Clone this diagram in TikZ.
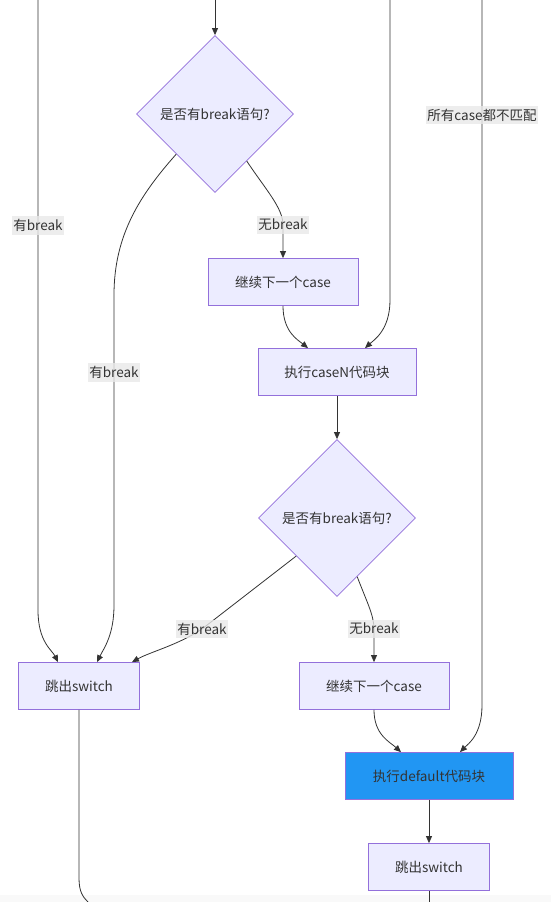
\documentclass[tikz,border=0pt]{standalone}
\usepackage{fontspec}
\setmainfont{Noto Sans CJK SC}
\usepackage{tikz}
\usetikzlibrary{arrows.meta,shapes.geometric,calc}
\definecolor{nodefill}{HTML}{ECECFF}
\definecolor{nodeline}{HTML}{9370DB}
\definecolor{inkgray}{HTML}{333333}
\definecolor{lblgray}{HTML}{E8E8E8}
\definecolor{defblue}{HTML}{2196F3}

\begin{document}
\begin{tikzpicture}[
      x=1pt, y=-1pt,
      every node/.style={font=\fontsize{13.5}{15}\selectfont, text=inkgray},
      stepbox/.style={rectangle, draw=nodeline, fill=nodefill, line width=0.8pt,
        minimum height=47pt, inner sep=0pt},
      choice/.style={diamond, draw=nodeline, fill=nodefill, line width=0.8pt,
        minimum width=157pt, minimum height=157pt, inner sep=0pt},
      flow/.style={draw=inkgray, line width=0.8pt, -{Triangle[length=7pt,width=6pt]}},
      lbl/.style={fill=lblgray, fill opacity=0.8, text opacity=1, inner xsep=1pt,
        inner ysep=3pt}
    ]
    % frame of the cropped picture
    \useasboundingbox (0,0) rectangle (551,902);
    \fill[gray!5] (0,895) rectangle (551,902);
    % loose ends that run off the page
    \coordinate (inL) at (38,0);
    \coordinate (inTop) at (215,0);
    \coordinate (inMid) at (390,0);
    \coordinate (inR) at (482,0);
    \coordinate (outL) at (88,902);
    \coordinate (outR) at (429,902);
    % decisions and steps
    \node[choice] (ask1) at (215,114) {是否有break语句?};
    \node[stepbox, minimum width=150pt] (next1) at (283,282) {继续下一个case};
    \node[stepbox, minimum width=158pt] (runN) at (337,372) {执行caseN代码块};
    \node[choice] (ask2) at (337,518) {是否有break语句?};
    \node[stepbox, minimum width=121pt] (exit1) at (79,686) {跳出switch};
    \node[stepbox, minimum width=150pt] (next2) at (374,686) {继续下一个case};
    \node[stepbox, fill=defblue, minimum width=168pt] (runDef) at (429,776) {执行default代码块};
    \node[stepbox, minimum width=121pt] (exit2) at (429,867) {跳出switch};
    % connectors
    \draw[flow] (inTop) -- (ask1);
    \draw[flow] (inL) -- node[lbl, pos=0.37] (lblA) {有break} (38,610)
      .. controls (38,642) and (52,650) .. ([xshift=-21pt]exit1.north);
    \draw[flow] (ask1.-134) .. controls (140,195) and (114,235) .. (114,295)
      -- node[lbl, pos=0.25] (lblB) {有break} (114,605)
      .. controls (114,635) and (104,648) .. ([xshift=18pt]exit1.north);
    \draw[flow] (ask1.-56) .. controls (266,190) and (283,208) .. (283,225)
      node[lbl] (lblC) {无break} -- (next1);
    \draw[flow] (next1.south) .. controls (283,332) and (298,340) .. ([xshift=-29pt]runN.north);
    \draw[flow] (inMid) -- (390,300) .. controls (390,330) and (374,340) .. ([xshift=28pt]runN.north);
    \draw[flow] (runN) -- (ask2);
    \draw[flow] (ask2.-137) -- (202,629) node[lbl] (lblD) {有break}
      .. controls (178,645) and (150,652) .. ([xshift=53pt]exit1.north);
    \draw[flow] (ask2.-71) .. controls (366,600) and (374,615) .. (374,629)
      node[lbl] (lblE) {无break} -- (next2);
    \draw[flow] (next2.south) .. controls (374,735) and (390,742) .. ([xshift=-28pt]runDef.north);
    \draw[flow] (inR) -- node[lbl, pos=0.163] (lblF) {所有case都不匹配} (482,705)
      .. controls (482,735) and (468,744) .. ([xshift=31pt]runDef.north);
    \draw[flow] (runDef) -- (exit2);
    \draw[draw=inkgray, line width=0.8pt] (exit2) -- (outR);
    \draw[draw=inkgray, line width=0.8pt] (exit1) -- (79,878) .. controls (79,892) and (83,897) .. (outL);
  \end{tikzpicture}
\end{document}
